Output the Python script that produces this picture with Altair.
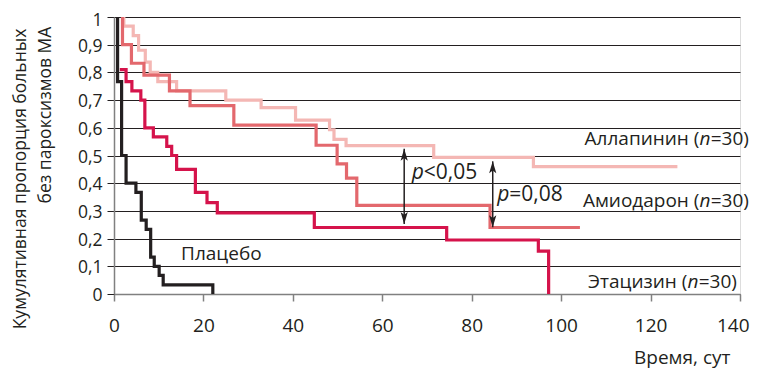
import altair as alt
import pandas as pd

FONT = "Open Sans"
INK = "#231F20"

# ---- Kaplan–Meier step data: time (days) where the proportion becomes the value ----
allapinin_t = [2.2, 2.2, 4.3, 5.5, 7.0, 8.1, 9.8, 14.0, 25.0, 32.9, 40.6, 48.2, 49.2, 51.9, 71.5, 93.8, 126.0]
allapinin_s = [1.0, 0.967, 0.933, 0.88, 0.837, 0.8, 0.767, 0.733, 0.70, 0.673, 0.628, 0.593, 0.558, 0.536, 0.493, 0.46, 0.46]

amiodarone_t = [1.9, 1.9, 3.9, 6.7, 12.4, 17.0, 26.8, 45.2, 49.9, 52.0, 54.3, 84.1, 104.2]
amiodarone_s = [1.0, 0.9, 0.833, 0.79, 0.733, 0.68, 0.61, 0.537, 0.47, 0.418, 0.32, 0.24, 0.24]

etacizine_t = [1.3, 2.7, 4.0, 6.0, 6.9, 8.8, 11.8, 12.9, 14.0, 18.2, 20.8, 23.1, 44.8, 74.4, 94.9, 97.2]
etacizine_s = [0.81, 0.767, 0.733, 0.70, 0.60, 0.567, 0.533, 0.50, 0.45, 0.367, 0.33, 0.293, 0.24, 0.195, 0.155, 0.0]

placebo_t = [0.8, 0.8, 1.7, 2.7, 4.9, 6.1, 7.2, 8.2, 9.0, 10.1, 11.0, 22.1]
placebo_s = [1.0, 0.767, 0.5, 0.4, 0.367, 0.267, 0.233, 0.133, 0.1, 0.067, 0.033, 0.0]

series_names = ["Аллапинин", "Амиодарон", "Этацизин", "Плацебо"]
series_colors = ["#F4B7B4", "#E3686D", "#D5134B", INK]

x_ticks = [0, 20, 40, 60, 80, 100, 120, 140]
y_ticks = [0, 0.1, 0.2, 0.3, 0.4, 0.5, 0.6, 0.7, 0.8, 0.9, 1.0]

# group labels (right side): text end position
group_prefix = ["Аллапинин (", "Амиодарон (", "Этацизин ("]
group_end_t = [142.0, 142.0, 139.3]
group_v = [0.561, 0.337, 0.044]

# p-value annotations
p_rest = ["<0,05", "=0,08"]
p_t = [66.6, 85.7]
p_v = [0.4385, 0.359]

# double arrows
arrow_t = [64.9, 84.7]
arrow_top = [0.524, 0.479]
arrow_bottom = [0.253, 0.241]

placebo_label_t = [15.0]
placebo_label_v = [0.146]

# ---- encodings ----
last_tick = "datum.value == 140"
X = alt.X("t:Q", scale=alt.Scale(domain=[0, 140], nice=False, zero=False),
          axis=alt.Axis(values=x_ticks, format="d", grid=False, labelFlush=False,
                        labelAlign={"condition": {"test": last_tick, "value": "right"}, "value": "center"},
                        labelOffset={"condition": {"test": last_tick, "value": 9}, "value": 0},
                        labelFont=FONT, labelFontSize=19, labelColor=INK, labelPadding=15,
                        domainColor="#808080", domainWidth=1.5,
                        tickColor="#808080", tickWidth=1.5, tickSize=7,
                        title="Время, сут", titleFont=FONT, titleFontSize=19,
                        titleFontWeight="normal", titleColor=INK,
                        titleAlign="right", titleX=616, titleY=63, titleBaseline="middle"))
Y = alt.Y("s:Q", scale=alt.Scale(domain=[0, 1], nice=False),
          axis=alt.Axis(values=y_ticks, labelExpr="replace(format(datum.value, '~g'), '.', ',')",
                        grid=True, gridColor=INK, gridWidth=1, labelFlush=False,
                        labelOffset={"condition": {"test": "datum.value == 1", "value": 3}, "value": 1.5},
                        tickColor=INK, tickWidth=1, tickSize=7,
                        domainColor="#808080", domainWidth=1.5,
                        labelFont=FONT, labelFontSize=17.5, labelColor=INK, labelPadding=5,
                        title=None))

layers = []
for name, color, ts, ss in zip(series_names, series_colors,
                               [allapinin_t, amiodarone_t, etacizine_t, placebo_t],
                               [allapinin_s, amiodarone_s, etacizine_s, placebo_s]):
    df = pd.DataFrame({"t": ts, "s": ss, "i": list(range(len(ts)))})
    layers.append(
        alt.Chart(df).mark_line(interpolate="step-after", color=color, strokeWidth=3.2,
                                strokeJoin="miter", strokeCap="butt")
        .encode(x=X, y=Y, order="i:Q")
    )

# arrows
arr = pd.DataFrame({"t": arrow_t, "s": arrow_top, "s2": arrow_bottom})
layers.append(alt.Chart(arr).mark_rule(color=INK, strokeWidth=1.5)
              .encode(x=X, y=Y, y2="s2:Q"))
up_head = "M0,0L0.9,3L0,2.3L-0.9,3Z"
down_head = "M0,0L0.9,-3L0,-2.3L-0.9,-3Z"
layers.append(alt.Chart(arr).mark_point(shape=up_head, filled=True, size=64, color=INK, opacity=1)
              .encode(x=X, y=Y))
arr_b = pd.DataFrame({"t": arrow_t, "s": arrow_bottom})
layers.append(alt.Chart(arr_b).mark_point(shape=down_head, filled=True, size=64, color=INK, opacity=1)
              .encode(x=X, y=Y))

# group labels: prefix, italic n, suffix
W_SUFFIX = 38.5
W_N = 11
gl = pd.DataFrame({"t": group_end_t, "s": group_v, "prefix": group_prefix})
layers.append(alt.Chart(gl).mark_text(text="=30)", align="right", baseline="middle",
                                      font=FONT, fontSize=19, color=INK)
              .encode(x=X, y=Y))
layers.append(alt.Chart(gl).mark_text(text="n", align="right", baseline="middle", dx=-W_SUFFIX,
                                      font=FONT, fontSize=19, fontStyle="italic", color=INK)
              .encode(x=X, y=Y))
layers.append(alt.Chart(gl).mark_text(align="right", baseline="middle", dx=-(W_SUFFIX + W_N),
                                      font=FONT, fontSize=19, color=INK)
              .encode(x=X, y=Y, text="prefix:N"))

# p-values
pv = pd.DataFrame({"t": p_t, "s": p_v, "rest": p_rest})
layers.append(alt.Chart(pv).mark_text(text="p", align="left", baseline="middle",
                                      font=FONT, fontSize=21, fontStyle="italic", color=INK)
              .encode(x=X, y=Y))
layers.append(alt.Chart(pv).mark_text(align="left", baseline="middle", dx=12,
                                      font=FONT, fontSize=21, color=INK)
              .encode(x=X, y=Y, text="rest:N"))

# placebo label
pl = pd.DataFrame({"t": placebo_label_t, "s": placebo_label_v})
layers.append(alt.Chart(pl).mark_text(text="Плацебо", align="left", baseline="middle",
                                      font=FONT, fontSize=19, color=INK)
              .encode(x=X, y=Y))

# y-axis title (two lines)
yt = pd.DataFrame({"txt": ["Кумулятивная пропорция больных", "без пароксизмов МА"],
                   "px": [-93, -68], "py": [162, 98]})
layers.append(alt.Chart(yt).mark_text(angle=270, align="center", baseline="middle",
                                      font=FONT, fontSize=17.5, color=INK)
              .encode(x=alt.X("px:Q", scale=None), y=alt.Y("py:Q", scale=None), text="txt:N"))

chart = alt.layer(*layers).properties(
    width=626, height=277,
    autosize=alt.AutoSizeParams(type="none"),
    padding={"left": 106, "top": 9, "right": 10, "bottom": 80},
).configure_view(stroke=None).configure(background="white")

chart.save("out.html", embed_options={"renderer": "svg", "actions": False})
